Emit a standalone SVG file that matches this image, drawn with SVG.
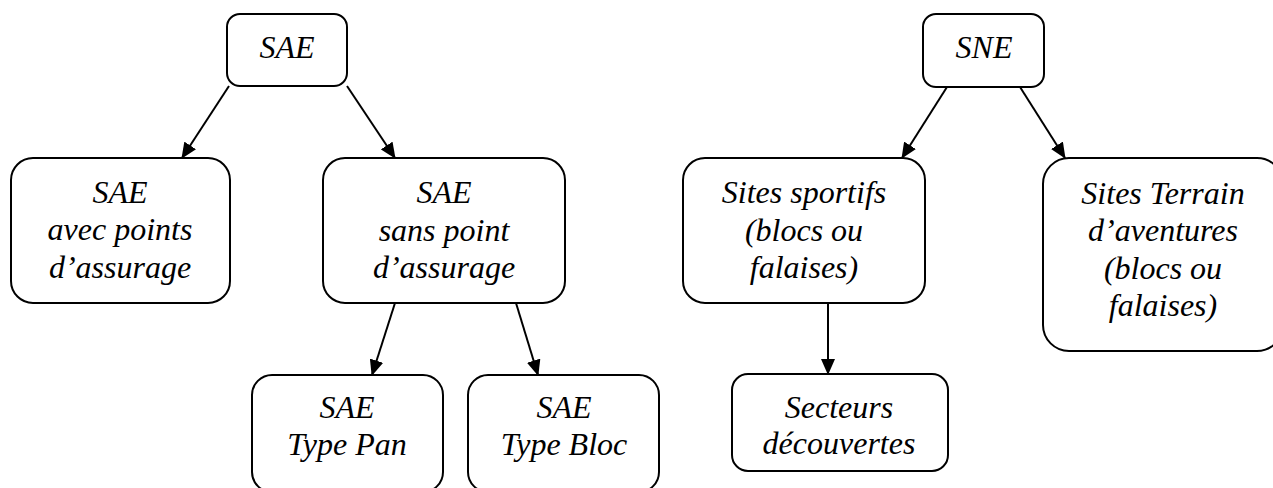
<svg xmlns="http://www.w3.org/2000/svg" width="1273" height="488" viewBox="0 0 1273 488">
<style>
.box{fill:#fff;stroke:#000;stroke-width:2}
.t{font-family:"Liberation Serif","Times New Roman",serif;font-style:italic;font-size:32px;fill:#000;text-anchor:middle}
.c{stroke:#000;stroke-width:2;fill:none;marker-end:url(#ah)}
</style>
<defs>
<marker id="ah" markerUnits="userSpaceOnUse" markerWidth="16" markerHeight="14" refX="15" refY="7" orient="auto">
<path d="M0,0 L16,7 L0,14 z" fill="#000"/>
</marker>
</defs>
<g id="connectors">
<line class="c" x1="229" y1="86" x2="182" y2="158"/>
<line class="c" x1="347" y1="86" x2="395" y2="158"/>
<line class="c" x1="395" y1="303" x2="372" y2="375"/>
<line class="c" x1="516" y1="303" x2="538" y2="375"/>
<line class="c" x1="947" y1="87" x2="902" y2="158"/>
<line class="c" x1="1020" y1="87" x2="1065" y2="158"/>
<line class="c" x1="828" y1="303" x2="828" y2="374"/>
</g>
<g id="sae">
<rect class="box" x="227" y="14" width="120" height="72" rx="13"/>
<text class="t" x="287" y="58">SAE</text>
</g>
<g id="sae-avec">
<rect class="box" x="11" y="158" width="219" height="145" rx="22"/>
<text class="t" x="120" y="203">SAE</text>
<text class="t" x="120" y="240">avec points</text>
<text class="t" x="120" y="278">d’assurage</text>
</g>
<g id="sae-sans">
<rect class="box" x="323" y="158" width="242" height="145" rx="22"/>
<text class="t" x="444" y="203">SAE</text>
<text class="t" x="444" y="241">sans point</text>
<text class="t" x="444" y="278">d’assurage</text>
</g>
<g id="sae-pan">
<rect class="box" x="252" y="375" width="191" height="117" rx="20"/>
<text class="t" x="347" y="418">SAE</text>
<text class="t" x="347" y="455">Type Pan</text>
</g>
<g id="sae-bloc">
<rect class="box" x="468" y="375" width="191" height="117" rx="20"/>
<text class="t" x="564" y="418">SAE</text>
<text class="t" x="564" y="455">Type Bloc</text>
</g>
<g id="sne">
<rect class="box" x="923" y="14" width="121" height="73" rx="13"/>
<text class="t" x="984" y="58">SNE</text>
</g>
<g id="sites-sportifs">
<rect class="box" x="683" y="158" width="242" height="145" rx="22"/>
<text class="t" x="804" y="203">Sites sportifs</text>
<text class="t" x="804" y="241">(blocs ou</text>
<text class="t" x="804" y="278">falaises)</text>
</g>
<g id="sites-terrain">
<rect class="box" x="1043" y="158" width="240" height="193" rx="26"/>
<text class="t" x="1163" y="204">Sites Terrain</text>
<text class="t" x="1163" y="241">d’aventures</text>
<text class="t" x="1163" y="279">(blocs ou</text>
<text class="t" x="1163" y="316">falaises)</text>
</g>
<g id="secteurs">
<rect class="box" x="732" y="374" width="216" height="97" rx="16"/>
<text class="t" x="839" y="418">Secteurs</text>
<text class="t" x="839" y="454">découvertes</text>
</g>
</svg>
